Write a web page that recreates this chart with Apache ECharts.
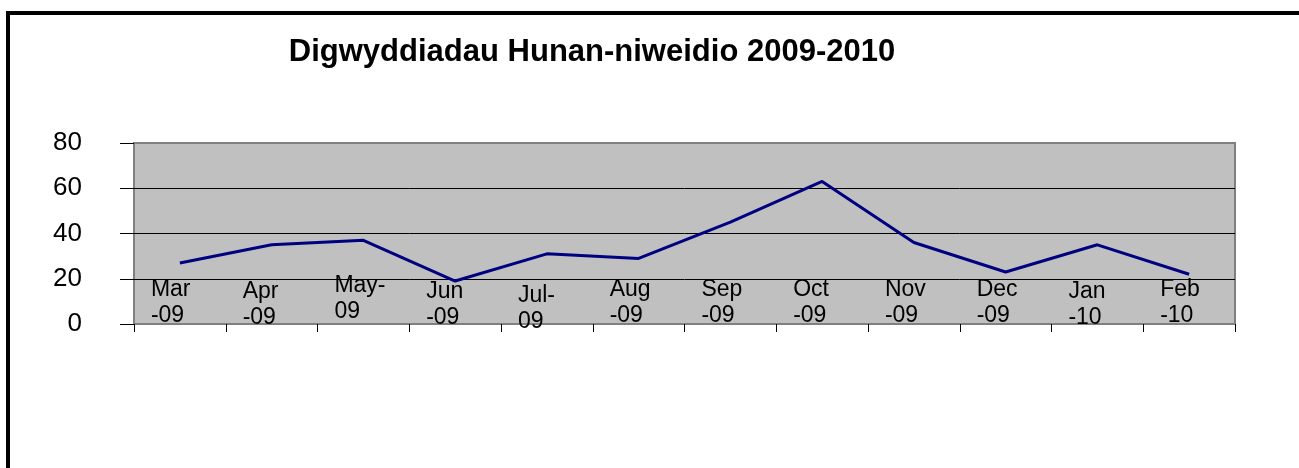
<!DOCTYPE html>
<html>
<head>
<meta charset="utf-8">
<title>Digwyddiadau Hunan-niweidio 2009-2010</title>
<script src="https://cdn.jsdelivr.net/npm/echarts@6/dist/echarts.min.js"></script>
<style>
    html, body { margin: 0; padding: 0; background: #fff; }
    #chart { width: 1299px; height: 468px; }
</style>
</head>
<body>
<div id="chart"></div>
<script>
    // misoedd (labeli fel yn Excel, wedi'u lapio)
    var months = ['Mar\n-09', 'Apr\n-09', 'May-\n09', 'Jun\n-09', 'Jul-\n09', 'Aug\n-09',
                  'Sep\n-09', 'Oct\n-09', 'Nov\n-09', 'Dec\n-09', 'Jan\n-10', 'Feb\n-10'];
    // nifer y digwyddiadau
    var incidents = [27, 35, 37, 19, 31, 29, 45, 63, 36, 23, 35, 22];
    // ticiau echel y
    var yTicks = [0, 20, 40, 60, 80];

    var font = "'Liberation Sans', Arial, sans-serif";
    var chart = echarts.init(document.getElementById('chart'));

    // May ychydig yn uwch, Jul ychydig yn is (fel yn y llun)
    function labelStyle(i) {
        var m = months[i].slice(0, 3);
        if (m === 'May') return 'up';
        if (m === 'Jul') return 'down';
        if (m === 'Apr' || m === 'Jun' || m === 'Jan') return 'low';
        return 'n';
    }

    function rs(pad) {
        return { fontFamily: font, fontSize: 23, color: '#000', lineHeight: 26, width: 58, align: 'left', padding: pad };
    }

    chart.setOption({
        animation: false,
        title: {
            text: 'Digwyddiadau Hunan-niweidio 2009-2010',
            left: 592,
            top: 37,
            padding: 0,
            textAlign: 'center',
            textStyle: { fontFamily: font, fontSize: 31, fontWeight: 'bold', color: '#000' }
        },
        graphic: [{
            type: 'rect',
            shape: { x: 8, y: 13, width: 1400, height: 1000 },
            style: { fill: 'none', stroke: '#000', lineWidth: 4 },
            silent: true
        }],
        grid: {
            left: 134, top: 143, right: 64, bottom: 144,
            show: true,
            backgroundColor: '#C0C0C0',
            borderColor: '#808080',
            borderWidth: 2
        },
        xAxis: {
            type: 'category',
            data: months,
            boundaryGap: true,
            axisLine: { show: false },
            axisTick: { show: true, length: 8, lineStyle: { color: '#000', width: 1 } },
            axisLabel: {
                interval: 0,
                margin: -47,
                verticalAlign: 'top',
                align: 'center',
                formatter: function (val, i) {
                    var s = labelStyle(i);
                    return val.split('\n').map(function (p) { return '{' + s + '|' + p + '}'; }).join('\n');
                },
                rich: {
                    n: rs([0, 0, 0, 0]),
                    low: rs([3, 0, 0, 0]),
                    up: rs([0, 0, 9, 0]),
                    down: rs([11, 0, 0, 0])
                }
            }
        },
        yAxis: {
            type: 'value',
            min: yTicks[0],
            max: yTicks[yTicks.length - 1],
            interval: yTicks[1] - yTicks[0],
            axisLine: { show: false },
            axisTick: { show: true, length: 14, lineStyle: { color: '#000', width: 1 } },
            axisLabel: { margin: 52, fontFamily: font, fontSize: 26, color: '#000' },
            splitLine: {
                show: true,
                lineStyle: { color: ['#808080', '#000', '#000', '#000', '#808080'], width: 1 }
            }
        },
        series: [{
            type: 'line',
            data: incidents,
            symbol: 'none',
            lineStyle: { color: '#000080', width: 3 },
            itemStyle: { color: '#000080' }
        }]
    });
</script>
</body>
</html>
